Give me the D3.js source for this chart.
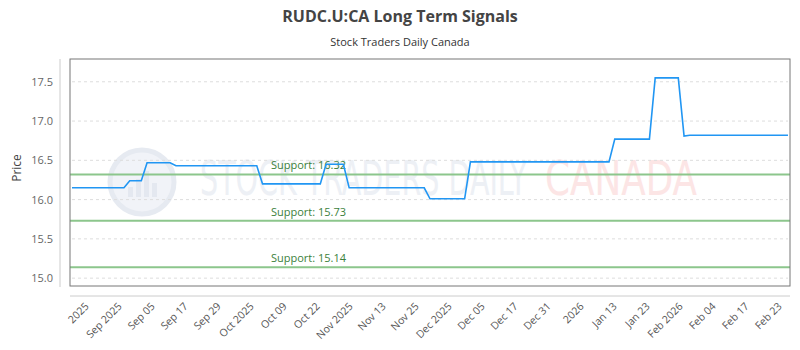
<!DOCTYPE html>
<html>
<head>
<meta charset="utf-8">
<script src="https://cdn.jsdelivr.net/npm/d3@7/dist/d3.min.js"></script>
<style>
  body { margin: 0; background: #fff; }
  svg { display: block; font-family: "Open Sans", sans-serif; }
</style>
</head>
<body>
<svg id="chart" width="800" height="350"></svg>
<script>
// chart data
const title = 'RUDC.U:CA Long Term Signals';
const subtitle = 'Stock Traders Daily Canada';

const tickLabels = ['2025', 'Sep 2025', 'Sep 05', 'Sep 17', 'Sep 29', 'Oct 2025', 'Oct 09', 'Oct 22',
  'Nov 2025', 'Nov 13', 'Nov 25', 'Dec 2025', 'Dec 05', 'Dec 17', 'Dec 31', '2026', 'Jan 13',
  'Jan 23', 'Feb 2026', 'Feb 04', 'Feb 17', 'Feb 23'];

const prices = [
  16.15, 16.15, 16.15, 16.15, 16.15, 16.15, 16.15, 16.15, 16.15, 16.15,
  16.24, 16.24, 16.24,
  16.47, 16.47, 16.47, 16.47, 16.47,
  16.43, 16.43, 16.43, 16.43, 16.43, 16.43, 16.43, 16.43, 16.43, 16.43, 16.43, 16.43, 16.43, 16.43, 16.43,
  16.20, 16.20, 16.20, 16.20, 16.20, 16.20, 16.20, 16.20, 16.20, 16.20, 16.20,
  16.45, 16.45, 16.45, 16.45,
  16.15, 16.15, 16.15, 16.15, 16.15, 16.15, 16.15, 16.15, 16.15, 16.15, 16.15, 16.15, 16.15, 16.15,
  16.01, 16.01, 16.01, 16.01, 16.01, 16.01, 16.01,
  16.48, 16.48, 16.48, 16.48, 16.48, 16.48, 16.48, 16.48, 16.48, 16.48, 16.48, 16.48, 16.48,
  16.48, 16.48, 16.48, 16.48, 16.48, 16.48, 16.48, 16.48, 16.48, 16.48, 16.48, 16.48,
  16.77, 16.77, 16.77, 16.77, 16.77, 16.77, 16.77,
  17.55, 17.55, 17.55, 17.55, 17.55,
  16.81,
  16.82, 16.82, 16.82, 16.82, 16.82, 16.82, 16.82, 16.82, 16.82, 16.82, 16.82, 16.82, 16.82,
  16.82, 16.82, 16.82, 16.82, 16.82
];

const supportLevels = [16.32, 15.73, 15.14];
const yTicks = [15.0, 15.5, 16.0, 16.5, 17.0, 17.5];

// layout
const plot = { left: 70, right: 790, top: 59, bottom: 286 };
const svg = d3.select('#chart');

const x = d3.scaleLinear().domain([0, prices.length - 1]).range([72, 788]);
const y = d3.scaleLinear().domain([14.9, 17.79]).range([plot.bottom, plot.top]);
const xLabels = d3.scalePoint().domain(tickLabels).range([91, 784]);

// titles
svg.append('text')
  .attr('x', 400).attr('y', 22)
  .attr('text-anchor', 'middle')
  .style('font-size', '16px').style('font-weight', 'bold').style('fill', '#444')
  .text(title);

svg.append('text')
  .attr('x', 400).attr('y', 46)
  .attr('text-anchor', 'middle')
  .style('font-size', '11px').style('fill', '#333')
  .text(subtitle);

// watermark
const wm = svg.append('g');
wm.append('circle').attr('cx', 142).attr('cy', 182).attr('r', 32)
  .attr('fill', '#f1f3f8').attr('stroke', '#e6eaf1').attr('stroke-width', 5);
[[-14, 10], [-6, 18], [2, 26], [10, 14]].forEach(([dx, h]) => {
  wm.append('rect').attr('x', 142 + dx).attr('y', 197 - h).attr('width', 5).attr('height', h)
    .attr('fill', '#e4e8f0');
});
wm.append('text')
  .attr('x', 200).attr('y', 195)
  .attr('textLength', 327).attr('lengthAdjust', 'spacingAndGlyphs')
  .style('font-size', '48px').style('font-family', 'DejaVu Sans Condensed, sans-serif')
  .style('fill', '#edf0f5')
  .text('STOCK TRADERS DAILY');
wm.append('text')
  .attr('x', 545).attr('y', 195)
  .attr('textLength', 152).attr('lengthAdjust', 'spacingAndGlyphs')
  .style('font-size', '48px').style('font-family', 'DejaVu Sans Condensed, sans-serif')
  .style('fill', '#fce5e5')
  .text('CANADA');

// gridlines
svg.append('g')
  .selectAll('line')
  .data(yTicks)
  .join('line')
  .attr('x1', plot.left + 2).attr('x2', plot.right - 2)
  .attr('y1', d => y(d)).attr('y2', d => y(d))
  .attr('stroke', '#ddd').attr('stroke-dasharray', '3,3');

// y axis
const yAxis = svg.append('g')
  .attr('transform', 'translate(60,0)')
  .call(d3.axisLeft(y).tickValues(yTicks).tickFormat(d3.format('.1f')).tickSize(0).tickPadding(7));
yAxis.select('.domain').attr('stroke', '#ccc').attr('d', `M0,${plot.top}V${plot.bottom + 1}`);
yAxis.selectAll('text').style('font-size', '11px').style('fill', '#666').style('font-family', 'Open Sans, sans-serif');

svg.append('text')
  .attr('transform', 'translate(21,168) rotate(-90)')
  .attr('text-anchor', 'middle')
  .style('font-size', '12px').style('fill', '#444')
  .text('Price');

// x axis
const xAxis = svg.append('g')
  .attr('transform', 'translate(0,296)')
  .call(d3.axisBottom(xLabels).tickSize(0));
xAxis.select('.domain').attr('stroke', '#ccc').attr('d', `M${plot.left},0H${plot.right}`);
xAxis.selectAll('text')
  .attr('y', 0).attr('dy', 0)
  .attr('transform', 'translate(-2,11) rotate(-45)')
  .attr('text-anchor', 'end')
  .style('font-size', '10.5px').style('fill', '#555').style('font-family', 'Open Sans, sans-serif');

// support lines
const sup = svg.append('g');
sup.selectAll('line')
  .data(supportLevels)
  .join('line')
  .attr('x1', plot.left).attr('x2', plot.right)
  .attr('y1', d => y(d)).attr('y2', d => y(d))
  .attr('stroke', '#8cc68c').attr('stroke-width', 2);
sup.selectAll('text')
  .data(supportLevels)
  .join('text')
  .attr('x', 271).attr('y', d => y(d) - 5)
  .style('font-size', '11px').style('fill', '#3b7f3b')
  .text(d => 'Support: ' + d.toFixed(2));

// price line
svg.append('path')
  .datum(prices)
  .attr('d', d3.line().x((d, i) => x(i)).y(d => y(d)))
  .attr('fill', 'none')
  .attr('stroke', '#2196f3')
  .attr('stroke-width', 1.6);

// plot border
svg.append('rect')
  .attr('x', plot.left).attr('y', plot.top)
  .attr('width', plot.right - plot.left).attr('height', plot.bottom - plot.top)
  .attr('fill', 'none').attr('stroke', '#777').attr('stroke-width', 1);
</script>
</body>
</html>
